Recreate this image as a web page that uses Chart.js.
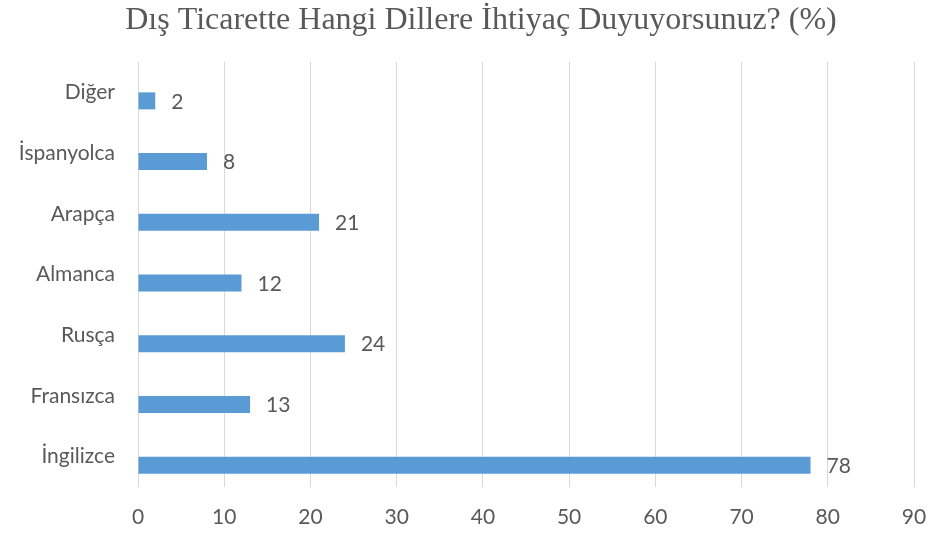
<!DOCTYPE html>
<html lang="tr">
<head>
<meta charset="utf-8">
<title>Dış Ticarette Hangi Dillere İhtiyaç Duyuyorsunuz?</title>
<script src="https://cdn.jsdelivr.net/npm/chart.js@4.4.1/dist/chart.umd.min.js"></script>
<style>
  html, body { margin: 0; padding: 0; background: #fff; }
  #wrap { width: 930px; height: 533px; }
</style>
</head>
<body>
<div id="wrap"><canvas id="langChart" width="930" height="533"></canvas></div>
<script>
const chartTitle = 'Dış Ticarette Hangi Dillere İhtiyaç Duyuyorsunuz? (%)';
const languages = ['Diğer', 'İspanyolca', 'Arapça', 'Almanca', 'Rusça', 'Fransızca', 'İngilizce'];
const percentages = [2, 8, 21, 12, 24, 13, 78];
// Excel had a second (empty) series, which pushes the bars below the category centre
const emptySeries = [null, null, null, null, null, null, null];
const xTicks = [0, 10, 20, 30, 40, 50, 60, 70, 80, 90];

const TEXT = '#595959';
const BAR = '#5B9BD5';
const GRID = '#D9D9D9';
const SANS = "Lato, 'Open Sans', sans-serif";

// value labels to the right of each bar
const barValueLabels = {
  id: 'barValueLabels',
  afterDatasetsDraw(chart) {
    const ctx = chart.ctx;
    const meta = chart.getDatasetMeta(1);
    ctx.save();
    ctx.font = '21px ' + SANS;
    ctx.fillStyle = TEXT;
    ctx.textAlign = 'left';
    ctx.textBaseline = 'middle';
    meta.data.forEach((bar, i) => {
      ctx.fillText(String(percentages[i]), bar.x + 16, bar.y + 1);
    });
    ctx.restore();
  }
};

// title sits a bit left of the plot centre in the original, so draw it by hand
const offsetTitle = {
  id: 'offsetTitle',
  afterDraw(chart) {
    const ctx = chart.ctx;
    ctx.save();
    ctx.font = "32px 'Liberation Serif', 'Times New Roman', serif";
    ctx.fillStyle = TEXT;
    ctx.textAlign = 'center';
    ctx.textBaseline = 'alphabetic';
    ctx.fillText(chartTitle, 481, 29);
    ctx.restore();
  }
};

new Chart(document.getElementById('langChart'), {
  type: 'bar',
  data: {
    labels: languages,
    datasets: [
      { label: '', data: emptySeries, backgroundColor: BAR },
      { label: '%', data: percentages, backgroundColor: BAR, borderWidth: 0 }
    ]
  },
  options: {
    indexAxis: 'y',
    responsive: false,
    animation: false,
    categoryPercentage: 0.56,
    barPercentage: 1,
    layout: { padding: { left: 0, right: 0, top: 62, bottom: 0 } },
    scales: {
      x: {
        min: 0,
        max: 90,
        afterBuildTicks: (scale) => { scale.ticks = xTicks.map(v => ({ value: v })); },
        afterFit: (scale) => { scale.height = 46; scale.paddingRight = 16; },
        grid: { color: GRID, lineWidth: 1, drawTicks: false },
        border: { display: false },
        ticks: { color: TEXT, font: { family: SANS, size: 21 }, padding: 18 }
      },
      y: {
        afterFit: (scale) => { scale.width = 138; },
        grid: { display: false, drawTicks: false },
        border: { display: false },
        ticks: { color: TEXT, font: { family: SANS, size: 21 }, padding: 23 }
      }
    },
    plugins: {
      legend: { display: false },
      tooltip: { enabled: false },
      title: { display: false }
    }
  },
  plugins: [barValueLabels, offsetTitle]
});
</script>
</body>
</html>
